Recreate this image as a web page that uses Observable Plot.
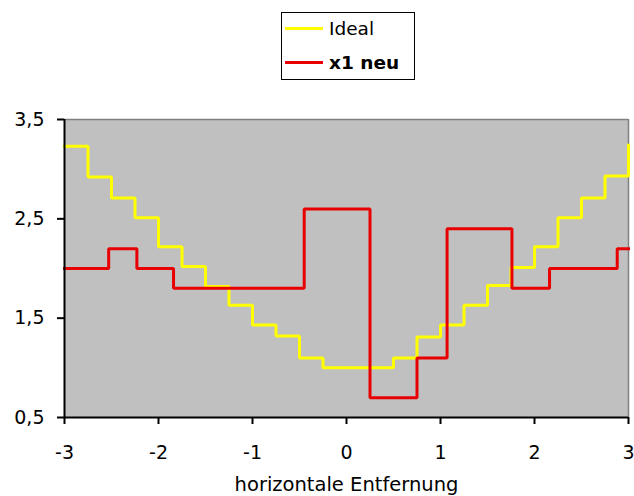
<!DOCTYPE html>
<html>
<head>
<meta charset="utf-8">
<script src="https://cdn.jsdelivr.net/npm/d3@7"></script>
<script src="https://cdn.jsdelivr.net/npm/@observablehq/plot@0.6"></script>
<style>
  html, body { margin: 0; padding: 0; background: #fff; }
  #wrap { position: relative; width: 634px; height: 496px; overflow: hidden; }
  #legend { position: absolute; left: 281px; top: 12px; width: 132px; height: 66px;
    border: 1px solid #000; background: #fff; font-family: "DejaVu Sans", sans-serif; font-size: 18.5px; }
  .item { position: absolute; left: 3px; height: 22px; display: flex; align-items: center; }
  .sw { width: 38px; height: 3px; margin-right: 6px; }
</style>
</head>
<body>
<div id="wrap">
  <div id="chart"></div>
  <div id="legend"></div>
</div>
<script>
const seriesNames = ["Ideal", "x1 neu"];
const seriesColors = ["#FFFF00", "#E80000"];

const idealX = [-3, -2.75, -2.5, -2.25, -2, -1.75, -1.5, -1.25, -1, -0.75, -0.5, -0.25, 0.5, 0.75, 1, 1.25, 1.5, 1.75, 2, 2.25, 2.5, 2.75, 3];
const idealY = [3.23, 2.92, 2.71, 2.51, 2.22, 2.02, 1.82, 1.63, 1.43, 1.32, 1.1, 1.0, 1.1, 1.31, 1.43, 1.63, 1.83, 2.01, 2.22, 2.51, 2.71, 2.93, 3.24];

const neuX = [-3, -2.53, -2.23, -1.84, -0.45, 0.25, 0.75, 1.07, 1.76, 2.16, 2.88, 3];
const neuY = [2.0, 2.2, 2.0, 1.8, 2.6, 0.7, 1.1, 2.4, 1.8, 2.0, 2.2, 2.2];

const xTicks = [-3, -2, -1, 0, 1, 2, 3];
const yTicks = [0.5, 1.5, 2.5, 3.5];
const xLabel = "horizontale Entfernung";

const ideal = idealX.map((x, i) => ({x, y: idealY[i]}));
const neu = neuX.map((x, i) => ({x, y: neuY[i]}));

const chart = Plot.plot({
  width: 634,
  height: 496,
  marginTop: 119,
  marginLeft: 64,
  marginRight: 6,
  marginBottom: 79,
  style: { fontFamily: "DejaVu Sans, sans-serif", fontSize: "19px", background: "#fff", color: "#000" },
  x: { domain: [-3, 3] },
  y: { domain: [0.5, 3.5] },
  marks: [
    Plot.frame({ fill: "#C0C0C0", stroke: null }),
    Plot.ruleY([3.5], { stroke: "#808080", strokeWidth: 1.5 }),
    Plot.ruleX([3], { stroke: "#808080", strokeWidth: 1.5 }),
    Plot.line(ideal, { x: "x", y: "y", curve: "step-after", stroke: seriesColors[0], strokeWidth: 3, strokeLinejoin: "miter", strokeLinecap: "square" }),
    Plot.line(neu, { x: "x", y: "y", curve: "step-after", stroke: seriesColors[1], strokeWidth: 3, strokeLinejoin: "miter", strokeLinecap: "square" }),
    Plot.ruleX([-3], { stroke: "#000", strokeWidth: 2 }),
    Plot.ruleY([0.5], { stroke: "#000", strokeWidth: 2 }),
    Plot.axisX({ ticks: xTicks, tickSize: 7, tickPadding: 21, strokeWidth: 2, label: null, fontSize: 19,
      tickFormat: d => (d < 0 ? "-" + (-d) : String(d)) }),
    Plot.axisY({ ticks: yTicks, tickSize: 7, tickPadding: 13, strokeWidth: 2, label: null, fontSize: 19,
      tickFormat: d => d.toFixed(1).replace(".", ",") }),
    Plot.text([xLabel], { frameAnchor: "bottom", dy: 67, lineAnchor: "middle", fontSize: 19.5, fill: "#000" })
  ]
});
document.getElementById("chart").appendChild(chart);

const legend = document.getElementById("legend");
seriesNames.forEach((name, i) => {
  const it = document.createElement("div");
  it.className = "item";
  it.style.top = (i === 0 ? 4 : 38) + "px";
  const sw = document.createElement("div");
  sw.className = "sw";
  sw.style.background = seriesColors[i];
  const t = document.createElement("span");
  t.textContent = name;
  if (i === 1) t.style.fontWeight = "bold";
  it.appendChild(sw);
  it.appendChild(t);
  legend.appendChild(it);
});
</script>
</body>
</html>
